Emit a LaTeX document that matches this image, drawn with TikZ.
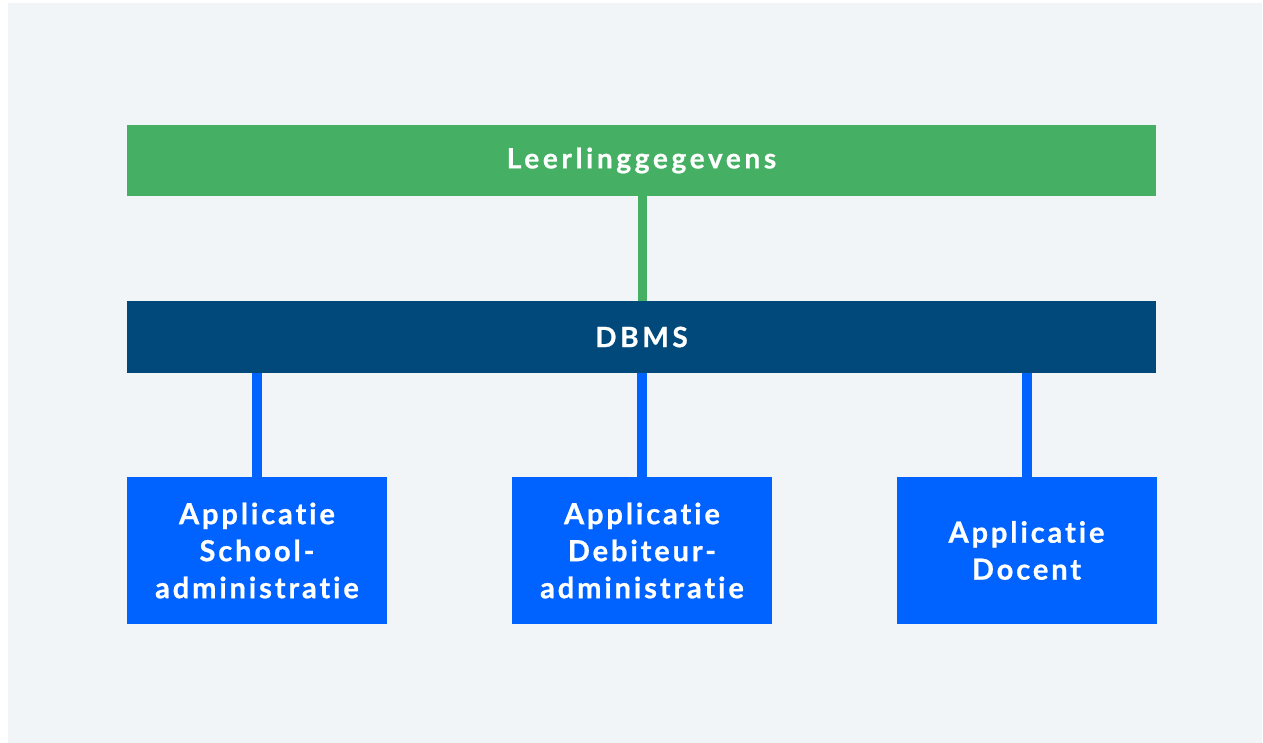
\documentclass[tikz,border=0pt]{standalone}
\usepackage{fontspec}
\setmainfont{Lato}[Ligatures={NoCommon}]
\usetikzlibrary{positioning}
\definecolor{panelgray}{HTML}{F2F5F8}
\definecolor{datagreen}{HTML}{45B064}
\definecolor{dbmsblue}{HTML}{00497A}
\definecolor{appblue}{HTML}{0062FF}
\tikzset{
  bar/.style={minimum width=1029pt, minimum height=71pt, inner sep=0pt,
    text=white, font=\bfseries\fontsize{28}{34}\selectfont\addfontfeatures{LetterSpace=13,FakeBold=0.8}},
  appbox/.style={fill=appblue, minimum width=260pt, minimum height=147pt,
    inner sep=0pt, text=white, align=center,
    font=\bfseries\fontsize{29}{37}\selectfont\addfontfeatures{LetterSpace=10,FakeBold=0.8}},
  link/.style={line width=10pt, appblue}
}

\begin{document}
\begin{tikzpicture}[x=1pt, y=-1pt]
    % Canvas and panel
    \useasboundingbox (0,0) rectangle (1263,743);
    \fill[white] (0,0) rectangle (1263,743);
    \fill[panelgray] (8,3) rectangle (1262,743);

    % Data and DBMS layers
    \node[bar, fill=datagreen] (data) at (641.5,160.5) {Leerlinggegevens};
    \node[bar, fill=dbmsblue, minimum height=72pt] (dbms) at (641.5,337) {DBMS};

    % Applications
    \node[appbox] (school) at (257,550.5) {Applicatie\\School-\\administratie};
    \node[appbox] (debiteur) at (642,550.5) {Applicatie\\Debiteur-\\administratie};
    \node[appbox] (docent) at (1026.5,550.5) {Applicatie\\Docent};

    % Connections
    \draw[line width=9pt, datagreen] (data.south -| 642,0) -- (dbms.north -| 642,0);
    \foreach \app in {school,debiteur,docent} {
        \draw[link] (dbms.south -| \app) -- (\app.north);
    }
\end{tikzpicture}
\end{document}
